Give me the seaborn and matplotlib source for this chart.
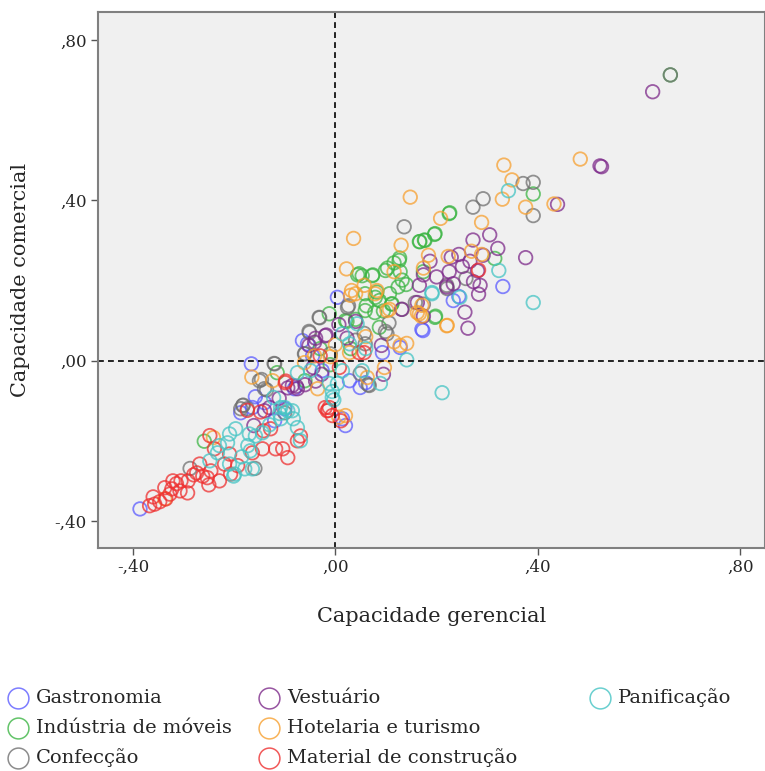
import matplotlib
matplotlib.use('Agg')
import matplotlib.pyplot as plt
from matplotlib.lines import Line2D
import pandas as pd
import seaborn as sns

# valores (capacidade gerencial x capacidade comercial)
gastro_x = [-0.386, -0.166, -0.158, -0.187, -0.164, -0.055, -0.065, -0.045, -0.026, -0.081,
            0.004, 0.014, 0.020, 0.028, 0.049, 0.093, 0.128, 0.171, 0.173, 0.233,
            0.244, 0.331, -0.120, -0.100, 0.060, -0.140]
gastro_y = [-0.370, -0.008, -0.090, -0.130, -0.117, 0.042, 0.050, 0.012, -0.025, -0.070,
            0.158, -0.145, -0.162, -0.050, -0.067, 0.020, 0.033, 0.078, 0.075, 0.150,
            0.160, 0.185, -0.150, -0.120, -0.055, -0.105]

vest_x = [0.627, 0.523, 0.526, 0.439, 0.272, 0.305, 0.321, 0.376, 0.244, 0.229,
          0.266, 0.251, 0.292, 0.281, 0.273, 0.286, 0.283, 0.256, 0.262, 0.187,
          0.174, 0.200, 0.225, 0.233, 0.220, 0.166, 0.162, 0.174, 0.131, -0.018,
          -0.039, -0.052, 0.007, 0.040, 0.023, 0.091, 0.095, -0.077, -0.060, -0.039,
          -0.094, -0.111, -0.161, -0.044, -0.027, -0.020, -0.041, -0.075, -0.085, -0.130,
          -0.140]
vest_y = [0.671, 0.486, 0.484, 0.390, 0.301, 0.314, 0.280, 0.257, 0.265, 0.258,
          0.248, 0.235, 0.263, 0.224, 0.197, 0.188, 0.166, 0.121, 0.081, 0.248,
          0.214, 0.209, 0.222, 0.192, 0.184, 0.188, 0.145, 0.111, 0.128, 0.064,
          0.056, 0.038, 0.090, 0.098, 0.056, 0.038, -0.034, -0.064, -0.060, -0.051,
          -0.068, -0.094, -0.162, -0.017, -0.034, 0.062, 0.046, -0.070, -0.062, -0.117,
          -0.125]

moveis_x = [0.662, 0.391, 0.226, 0.196, 0.176, 0.166, 0.127, 0.044, 0.053, 0.074,
            0.103, 0.116, 0.128, 0.132, 0.124, 0.107, 0.082, 0.061, 0.078, 0.095,
            0.111, 0.174, 0.040, 0.023, 0.198, 0.315, -0.115, -0.259, 0.225, 0.197,
            0.167, 0.177, 0.126, 0.047, 0.073, 0.099, 0.059, 0.087, 0.059, 0.079,
            0.112, 0.197, 0.020, 0.087, -0.012, -0.030, -0.060, 0.030, -0.010, 0.140]
moveis_y = [0.713, 0.416, 0.369, 0.315, 0.301, 0.297, 0.256, 0.214, 0.212, 0.214,
            0.231, 0.244, 0.222, 0.201, 0.184, 0.167, 0.171, 0.137, 0.120, 0.124,
            0.141, 0.222, 0.103, 0.098, 0.111, 0.255, -0.030, -0.201, 0.367, 0.317,
            0.297, 0.300, 0.250, 0.217, 0.212, 0.225, 0.167, 0.150, 0.125, 0.158,
            0.142, 0.108, 0.100, 0.083, 0.117, 0.030, -0.050, 0.030, -0.010, 0.190]

hotel_x = [0.484, 0.333, 0.349, 0.330, 0.376, 0.432, 0.148, 0.208, 0.289, 0.036,
           0.130, 0.184, 0.269, 0.289, 0.223, 0.174, 0.162, 0.170, 0.220, 0.022,
           0.032, 0.040, 0.057, 0.082, 0.116, 0.107, 0.141, 0.128, 0.116, -0.165,
           -0.241, 0.007, 0.030, 0.079, 0.102, 0.171, 0.166, 0.221, 0.060, 0.000,
           0.028, 0.063, 0.097, -0.124, -0.061, -0.041, -0.035, 0.020, -0.337, -0.010]
hotel_y = [0.503, 0.488, 0.451, 0.403, 0.383, 0.391, 0.408, 0.355, 0.345, 0.305,
           0.288, 0.263, 0.273, 0.265, 0.260, 0.231, 0.120, 0.111, 0.087, 0.229,
           0.175, 0.167, 0.188, 0.175, 0.222, 0.128, 0.043, 0.038, 0.047, -0.041,
           -0.192, -0.141, 0.163, 0.167, 0.125, 0.138, 0.117, 0.088, 0.060, 0.040,
           0.020, -0.042, -0.017, -0.050, -0.005, 0.012, -0.070, -0.137, -0.345, 0.010]

conf_x = [0.662, 0.371, 0.391, 0.272, 0.292, 0.391, 0.136, 0.158, 0.174, 0.220,
          0.258, 0.132, 0.026, -0.031, -0.052, -0.060, -0.010, 0.106, 0.099, -0.121,
          -0.146, -0.136, -0.182, -0.174, -0.287, -0.159, 0.065, 0.057, 0.040, -0.032,
          -0.051, -0.061, -0.120, -0.150, -0.140, -0.187, 0.024, 0.102, 0.059, 0.067,
          0.049, 0.221, -0.183, -0.100]
conf_y = [0.713, 0.442, 0.445, 0.383, 0.404, 0.362, 0.334, 0.145, 0.141, 0.188,
          0.205, 0.128, 0.137, 0.107, 0.073, 0.017, 0.017, 0.094, 0.073, -0.007,
          -0.047, -0.073, -0.111, -0.120, -0.269, -0.269, -0.060, 0.068, 0.051, 0.108,
          0.070, 0.017, -0.008, -0.050, -0.070, -0.120, 0.133, 0.067, 0.042, -0.062,
          -0.032, 0.180, -0.112, -0.130]

mat_x = [-0.367, -0.357, -0.347, -0.335, -0.337, -0.323, -0.307, -0.292, -0.321, -0.305,
         -0.291, -0.274, -0.268, -0.253, -0.250, -0.314, -0.262, -0.246, -0.229, -0.207,
         -0.193, -0.219, -0.248, -0.239, -0.209, -0.144, -0.164, -0.327, -0.118, -0.104,
         -0.094, -0.075, -0.069, -0.016, -0.128, -0.142, -0.014, -0.006, 0.011, -0.098,
         -0.174, -0.148, 0.283, 0.057, 0.008, -0.099, -0.030, -0.012, 0.047, -0.020,
         -0.360, -0.280]
mat_y = [-0.362, -0.358, -0.352, -0.345, -0.317, -0.320, -0.325, -0.330, -0.300, -0.300,
         -0.300, -0.280, -0.258, -0.292, -0.310, -0.307, -0.288, -0.275, -0.300, -0.283,
         -0.262, -0.258, -0.187, -0.220, -0.233, -0.220, -0.230, -0.333, -0.220, -0.220,
         -0.242, -0.200, -0.188, -0.125, -0.170, -0.175, -0.124, -0.137, -0.150, -0.051,
         -0.124, -0.128, 0.226, 0.020, -0.017, -0.055, 0.012, -0.117, 0.020, -0.117,
         -0.340, -0.285]

pan_x = [0.342, 0.323, 0.191, 0.246, 0.391, 0.141, 0.211, -0.003, -0.006, 0.060,
         0.191, 0.043, 0.004, 0.089, 0.053, 0.014, -0.049, -0.075, -0.012, -0.006,
         0.014, -0.100, -0.085, -0.110, 0.028, -0.209, -0.197, -0.170, -0.158, -0.144,
         -0.173, -0.168, -0.213, -0.229, -0.233, -0.248, -0.199, -0.179, -0.164, -0.209,
         -0.201, -0.108, -0.094, -0.108, -0.075, -0.069, -0.083, -0.122, -0.185, -0.130]
pan_y = [0.424, 0.225, 0.170, 0.158, 0.145, 0.002, -0.080, -0.098, -0.077, 0.030,
         0.167, 0.092, -0.057, -0.057, -0.025, 0.067, -0.025, -0.030, -0.057, -0.092,
         -0.025, -0.117, -0.125, -0.132, 0.042, -0.183, -0.170, -0.183, -0.188, -0.180,
         -0.212, -0.225, -0.205, -0.212, -0.230, -0.250, -0.283, -0.270, -0.270, -0.258,
         -0.288, -0.117, -0.125, -0.145, -0.167, -0.200, -0.145, -0.092, -0.240, -0.160]

tick_vals = [-0.40, 0.00, 0.40, 0.80]
tick_labels = ['-,40', ',00', ',40', ',80']

setores = [
    ('Gastronomia', gastro_x, gastro_y, '#5c5cff'),
    ('Indústria de móveis', moveis_x, moveis_y, '#3cb544'),
    ('Confecção', conf_x, conf_y, '#707070'),
    ('Vestuário', vest_x, vest_y, '#7d2a8a'),
    ('Hotelaria e turismo', hotel_x, hotel_y, '#f7a030'),
    ('Material de construção', mat_x, mat_y, '#ee3030'),
    ('Panificação', pan_x, pan_y, '#45c4c4'),
]

frames = [pd.DataFrame({'gerencial': xs, 'comercial': ys, 'setor': nome})
          for nome, xs, ys, _ in setores]
df = pd.concat(frames, ignore_index=True)
cores = {nome: c for nome, _, _, c in setores}

sns.set_theme(style='white')
plt.rcParams['font.family'] = ['DejaVu Serif']

fig = plt.figure(figsize=(7.65, 7.71), dpi=100)
ax = fig.add_axes([98 / 765, 1 - 548 / 771, 667 / 765, 536 / 771])
ax.set_facecolor('#f0f0f0')

sns.scatterplot(data=df, x='gerencial', y='comercial', hue='setor', palette=cores,
                s=95, alpha=0.75, linewidth=0, legend=False, ax=ax)
# circulos vazados, como no SPSS
pts = ax.collections[0]
pts.set_edgecolors(pts.get_facecolors())
pts.set_facecolors('none')
pts.set_linewidths(1.3)

ax.axvline(0, color='black', lw=1.2, ls=(0, (3.5, 2.5)), zorder=1)
ax.axhline(0, color='black', lw=1.2, ls=(0, (3.5, 2.5)), zorder=1)

ax.set_xlim(-0.469, 0.849)
ax.set_ylim(-0.4675, 0.87)
ax.set_xticks(tick_vals)
ax.set_xticklabels(tick_labels)
ax.set_yticks(tick_vals)
ax.set_yticklabels(tick_labels)
ax.tick_params(direction='out', length=5, width=1, color='#555555', labelsize=12,
               bottom=True, left=True, pad=3)
for sp in ax.spines.values():
    sp.set_color('#808080')
    sp.set_linewidth(1.5)

ax.set_xlabel('Capacidade gerencial', fontsize=15, labelpad=22)
ax.set_ylabel('Capacidade comercial', fontsize=15, labelpad=18)

# legenda em tres colunas
col_x = [18, 269, 600]
row_y = [698, 728, 758]
ordem = [(0, 0), (0, 1), (0, 2), (1, 0), (1, 1), (1, 2), (2, 0)]
for (nome, _, _, cor), (c, r) in zip(setores, ordem):
    fx = col_x[c] / 765
    fy = 1 - row_y[r] / 771
    fig.add_artist(Line2D([fx], [fy], transform=fig.transFigure, marker='o', ls='',
                          markersize=15, markerfacecolor='none', markeredgecolor=cor,
                          markeredgewidth=1.1, alpha=0.8))
    fig.text(fx + 18 / 765, fy, nome, fontsize=14, va='center', ha='left')

fig.savefig('out.png', dpi=100)
